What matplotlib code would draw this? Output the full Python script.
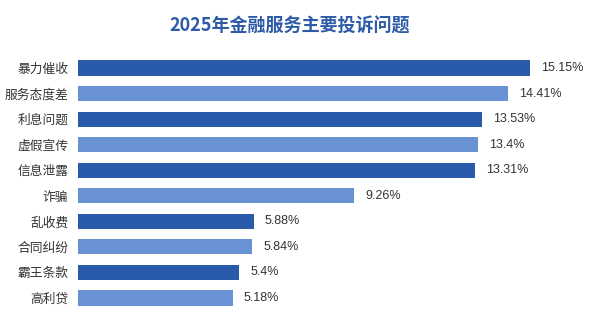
import matplotlib
matplotlib.use("Agg")
import matplotlib.pyplot as plt

plt.rcParams['font.family'] = ['Noto Sans CJK SC', 'DejaVu Sans']

categories = ["暴力催收", "服务态度差", "利息问题", "虚假宣传", "信息泄露",
              "诈骗", "乱收费", "合同纠纷", "霸王条款", "高利贷"]
values = [15.15, 14.41, 13.53, 13.4, 13.31, 9.26, 5.88, 5.84, 5.4, 5.18]
value_labels = ["15.15%", "14.41%", "13.53%", "13.4%", "13.31%",
                "9.26%", "5.88%", "5.84%", "5.4%", "5.18%"]
title = "2025年金融服务主要投诉问题"

dark = "#2a5bab"
light = "#6892d3"
colors = [dark if i % 2 == 0 else light for i in range(len(values))]

fig = plt.figure(figsize=(6.0, 3.26), dpi=100)
ax = fig.add_axes([0.13, 0.0466, 0.837, 0.7841])
y = list(range(len(values)))
ax.barh(y, values, height=0.59, color=colors)
ax.set_ylim(len(values) - 0.5, -0.5)
ax.set_xlim(0, 16.82)
ax.set_yticks(y)
ax.set_yticklabels(categories, fontsize=9.2, color="#333333", fontweight='medium')
ax.tick_params(axis='y', length=0, pad=7)
ax.set_xticks([])
for s in ax.spines.values():
    s.set_visible(False)

for yi, v, lab in zip(y, values, value_labels):
    ax.text(v + 0.37, yi, lab, va='center', ha='left', fontsize=9,
            color="#333333", family=['Liberation Sans', 'DejaVu Sans'])

fig.text(0.483, 0.92, title, ha='center', va='center', fontsize=13,
         fontweight='black', color="#2d5ba8")

fig.savefig("out.png", dpi=100, facecolor="white")
